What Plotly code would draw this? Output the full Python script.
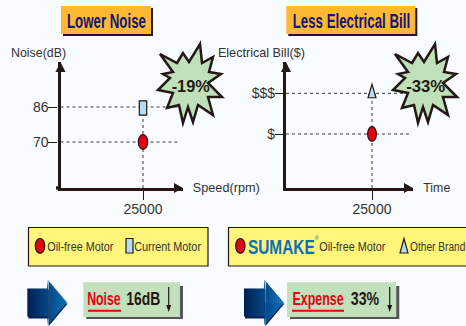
import json
import plotly.graph_objects as go

W, H = 466, 326
BG = "#f8fcff"
INK = "#231815"
GREY = "#3a3a3a"
RED = "#e60012"
PALE = "#b5dcf2"

# ---- data ----
speed_rpm = [25000, 25000]
noise_db = [70, 86]
noise_ticks = [70, 86]
bill_level = [1, 3]
bill_ticks = [1, 3]
bill_labels = ["$", "$$$"]
speed_ticks = [25000]
speed_labels = ["25000"]


def px(x):
    return x / W


def py(y):
    return 1 - y / H


def poly(points):
    return "M " + " L ".join(f"{px(x):.5f},{py(y):.5f}" for x, y in points) + " Z"


shapes = []
ann = []
fit = {}


def rect(x0, y0, x1, y1, fill, line=None, lw=1, layer="below"):
    shapes.append(dict(type="rect", xref="paper", yref="paper", x0=px(x0), x1=px(x1), y0=py(y0), y1=py(y1),
                       fillcolor=fill, line=dict(color=line or fill, width=lw if line else 0), layer=layer))


def ellipse(x0, y0, x1, y1):
    shapes.append(dict(type="circle", xref="paper", yref="paper", x0=px(x0), x1=px(x1), y0=py(y0), y1=py(y1),
                       fillcolor=RED, line=dict(color=INK, width=1.2)))


def shape_path(points, fill, line=None, lw=0, layer="above"):
    shapes.append(dict(type="path", xref="paper", yref="paper", path=poly(points), fillcolor=fill,
                       line=dict(color=line or fill, width=lw), layer=layer))


def line(x0, y0, x1, y1, color=INK, w=1):
    shapes.append(dict(type="line", xref="paper", yref="paper", x0=px(x0), x1=px(x1), y0=py(y0), y1=py(y1),
                       line=dict(color=color, width=w)))


def text(x0, x1, y, s, size=12, color="#333", bold=False):
    """Text centred between x0 and x1; the page script squeezes it to that width."""
    ann.append(dict(xref="paper", yref="paper", x=px((x0 + x1) / 2), y=py(y), text=f"<b>{s}</b>" if bold else s,
                    showarrow=False, xanchor="center", yanchor="middle", align="center",
                    font=dict(size=size, color=color, family="Liberation Sans")))
    fit[s] = x1 - x0


# title boxes
for x0, x1 in ((61, 151), (286.3, 415.3)):
    rect(x0 + 2, 8, x1 + 2, 36, INK)
    rect(x0, 6, x1, 34, "#fdb933")
text(66.7, 145.7, 20.7, "Lower Noise", 20, "#14147a", True)
text(292.3, 409.7, 20.7, "Less Electrical Bill", 20, "#14147a", True)

# axis titles
text(11, 66, 53, "Noise(dB)", 12.4)
text(218, 305, 53, "Electrical Bill($)", 12.6)
text(193, 260, 188, "Speed(rpm)", 12.6)
text(423, 450, 188, "Time", 12.6)

# arrow heads and axis stub
for ax, ay in ((60.5, 62), (286, 62)):
    shape_path([(ax, ay), (ax + 5, ay + 10), (ax - 5, ay + 10)], INK)
shape_path([(183, 188), (174, 183), (174, 193)], INK)
shape_path([(413, 188), (404, 183), (404, 193)], INK)
line(56, 188, 61, 188, INK, 3.4)

# stars
STAR = [(160, 54), (177, 63), (183, 53), (189, 62), (200, 44), (202, 63), (213, 57), (209, 72), (221, 74),
        (208, 83), (222, 97), (208, 97), (213, 115), (198, 105), (193, 122), (188, 107), (183, 123), (179, 105),
        (167, 108), (173, 93), (158, 90), (170, 78), (163, 74), (173, 72)]
for dx in (0, 235):
    shape_path([(x + dx, y) for x, y in STAR], "#bfe0b8", INK, 2.5)
text(171, 209, 86, "-19%", 16, INK, True)
text(406, 445, 86, "-33%", 16, INK, True)

# legend boxes
rect(28.5, 227.5, 208, 266, "#fff57a", INK, 1.2)
rect(228.5, 227.5, 480, 266, "#fff57a", INK, 1.2)
ellipse(35.3, 238.5, 44.7, 253.3)
text(46.7, 113.3, 247, "Oil-free Motor", 13.5)
rect(126, 238.5, 133, 253, PALE, INK, 1.2, "above")
text(135, 201.7, 247, "Current Motor", 13.5)
ellipse(235.7, 238.5, 245, 253.3)
text(248, 314.7, 246.5, "SUMAKE", 20, "#0b6fb8", True)
text(315, 319, 237.5, "®", 5, "#0b6fb8")
text(319.7, 385.7, 247, "Oil-free Motor", 13.5)
shape_path([(404, 238.5), (400, 253), (408, 253)], PALE, INK, 1.2)
text(409.7, 465, 247, "Other Brand", 12)


# blue gradient arrows
def blue(t):
    a, b = (0, 32, 84), (10, 110, 180)
    return "#%02x%02x%02x" % tuple(round(a[i] + (b[i] - a[i]) * t) for i in range(3))


for x0 in (27.3, 244):
    xb = x0 + 20.5
    tip = x0 + 39.5
    CY = 302.5

    def half(xx):
        return 14 if xx < xb else 22.5 * max(tip - xx, 0) / (tip - xb)

    shape_path([(x0 + 1, CY - 13), (xb + 1, CY - 13), (xb + 1, CY + 16), (x0 + 1, CY + 16)], "#0a1f4e", layer="below")
    shape_path([(xb + 1, CY + 23.5), (tip + 1, CY + 1), (xb + 1, CY)], "#0a1f4e", layer="below")
    n = 20
    for i in range(n):
        a = x0 + 39.5 * i / n
        b = x0 + 39.5 * (i + 1) / n
        if a < xb < b:
            b = xb
        pts = [(a, CY - half(a)), (b + 0.3, CY - half(b)), (b + 0.3, CY + half(b)), (a, CY + half(a))]
        shape_path(pts, blue(i / (n - 1)), layer="below")
    shape_path([(xb, CY - 22.5), (xb + 0.6, CY - 22), (xb + 0.6, CY + 22), (xb, CY + 22.5)], blue(0.52), layer="below")

# result boxes
for x0, x1 in ((83.3, 180), (287, 396.3)):
    rect(x0 + 3, 286, x1 + 3, 319, "#55565a")
    rect(x0, 282.3, x1, 317, "#c2e0bb")
text(87.7, 121, 298, "Noise", 19, RED, True)
line(88, 310.7, 121, 310.7, RED, 2)
text(126, 160, 298, "16dB", 19, INK, True)
line(168.7, 287, 168.7, 308, INK, 1.2)
shape_path([(168.7, 312), (166.2, 305), (171.2, 305)], INK)
text(292, 343, 298, "Expense", 19, RED, True)
line(292, 310.7, 344, 310.7, RED, 2)
text(350.3, 378.7, 298, "33%", 19, INK, True)
line(389.7, 287, 389.7, 308, INK, 1.2)
shape_path([(389.7, 312), (387.2, 305), (392.2, 305)], INK)


# value marks, sized in pixels and anchored to the data through the axes
def pixel_mark(kind, xref, yref, xv, yv, w, h, fill, offset=0):
    s = dict(type=kind, xref=xref, yref=yref, xsizemode="pixel", ysizemode="pixel", xanchor=xv, yanchor=yv,
             fillcolor=fill, line=dict(color=INK, width=1.2))
    if kind == "path":
        s["path"] = f"M 0,{h / 2 + offset} L {w / 2},{-h / 2 + offset} L {-w / 2},{-h / 2 + offset} Z"
    else:
        s.update(x0=-w / 2, x1=w / 2, y0=-h / 2 + offset, y1=h / 2 + offset)
    shapes.append(s)


pixel_mark("circle", "x", "y", speed_rpm[0], noise_db[0], 9.4, 14.6, RED)
pixel_mark("rect", "x", "y", speed_rpm[1], noise_db[1], 7.4, 14.4, PALE, -1)
pixel_mark("circle", "x2", "y2", speed_rpm[0], bill_level[0], 8.8, 14.6, RED)
pixel_mark("path", "x2", "y2", speed_rpm[1], bill_level[1], 8, 13.7, PALE, 2.4)


# chart panels
def axis_common(ticklen, **kw):
    base = dict(showgrid=False, zeroline=False, showline=True, linecolor=INK, linewidth=3.4, ticks="outside",
                ticklen=ticklen, tickcolor=INK, tickwidth=1, ticklabelstandoff=-3,
                tickfont=dict(size=14, color="#333", family="Liberation Sans"), fixedrange=True)
    base.update(kw)
    return base


NOISE_RANGE = [48.97, 106.57]
BILL_RANGE = [-1.653, 4.539]
layout = dict(
    width=W, height=H, margin=dict(l=0, r=0, t=0, b=0), paper_bgcolor=BG, plot_bgcolor="rgba(0,0,0,0)",
    showlegend=False, shapes=shapes, annotations=ann,
    xaxis=axis_common(9, domain=[px(60.5), px(183)], range=[0, 37121], tickvals=speed_ticks, ticktext=speed_labels, anchor="y"),
    yaxis=axis_common(9, domain=[py(188), py(62)], range=NOISE_RANGE, tickvals=noise_ticks, anchor="x"),
    xaxis2=axis_common(9, domain=[px(286), px(413)], range=[0, 36919], tickvals=speed_ticks, ticktext=speed_labels, anchor="y2"),
    yaxis2=axis_common(8, domain=[py(188), py(62)], range=BILL_RANGE, tickvals=bill_ticks, ticktext=bill_labels, anchor="x2"),
)

fig = go.Figure(layout=layout)
dots = dict(color=GREY, width=1, dash="3px,3px")

for xa, ya, ys, xr, yr, syms in (
    ("x", "y", noise_db, 36212, NOISE_RANGE, ["circle", "square"]),
    ("x2", "y2", bill_level, 36337, BILL_RANGE, ["circle", "triangle-up"]),
):
    for yv in ys:
        fig.add_trace(go.Scatter(x=[0, xr], y=[yv, yv], mode="lines", line=dots, xaxis=xa, yaxis=ya, hoverinfo="skip"))
    fig.add_trace(go.Scatter(x=speed_rpm, y=[yr[0], max(ys)], mode="lines", line=dots, xaxis=xa, yaxis=ya, hoverinfo="skip"))
    fig.add_trace(go.Scatter(x=speed_rpm, y=ys, mode="markers", xaxis=xa, yaxis=ya,
                             marker=dict(symbol=syms, size=6, color=[RED, PALE], line=dict(color=INK, width=1))))

# page: no body margin; squeeze the annotation texts to the reference's condensed widths
post = """
document.documentElement.style.margin='0';
document.body.style.margin='0';
document.body.style.overflow='hidden';
document.body.style.background='%s';
var fit=%s;
document.querySelectorAll('.annotation-text').forEach(function(t){
  var w=fit[t.textContent];
  if(!w){return;}
  t.setAttribute('textLength',w);
  t.setAttribute('lengthAdjust','spacingAndGlyphs');
});
""" % (BG, json.dumps(fit))
fig.write_html("out.html", post_script=post, config={"displayModeBar": False, "responsive": False})
